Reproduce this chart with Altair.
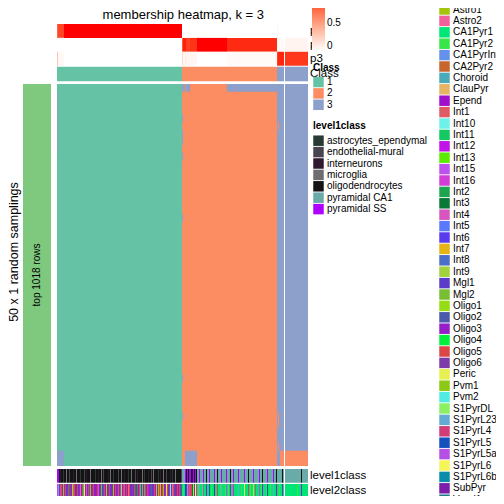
import altair as alt
import pandas as pd

FONT = "Liberation Sans"

TITLE = "membership heatmap, k = 3"
ROW_TITLE = "50 x 1 random samplings"
ROW_GROUP = "top 1018 rows"
N_ROWS = 50

CLASS_NAMES = ["1", "2", "3"]
CLASS_COLORS = ["#66C2A5", "#FC8D62", "#8DA0CB"]
ROW_GROUP_COLOR = "#7FC97F"
P_NAMES = ["p1", "p2", "p3"]
P_COLORS = ["#FFFFFF", "#FF0000"]

# column segments (contiguous samples sharing the same values), two column slices
SEG_WIDTH = [1, 6, 118, 1, 2, 1, 4, 7, 30, 50, 1, 1, 1, 4, 23]
SEG_SLICE = [1, 1, 1, 1, 1, 1, 1, 1, 1, 1, 1, 1, 1, 1, 2]
CLASS_ANNO = [1, 1, 1, 2, 2, 2, 2, 2, 2, 2, 3, 3, 3, 3, 3]
P1 = [0.75, 0.88, 1.0, 0, 0, 0, 0, 0, 0, 0, 0.06, 0, 0, 0, 0]
P2 = [0, 0, 0, 0.8, 0.97, 0.97, 0.9, 0.93, 1.0, 0.95, 0.04, 0.03, 0.03, 0.03, 0.06]
P3 = [0.3, 0.04, 0, 0.2, 0.04, 0.1, 0.05, 0.05, 0, 0.03, 0.9, 0.96, 0.96, 0.96, 0.92]

# sampling rows that differ from the consensus class
ROW_TOP = [1, 1, 1, 3, 3, 2, 3, 2, 2, 3, 3, 3, 3, 3, 3]
ROW_BOTTOM = [3, 3, 1, 2, 2, 3, 3, 3, 2, 2, 3, 3, 3, 2, 2]
ROWS_BOTTOM = [49, 50]
ROWS_S1_CLASS3 = [2, 3, 4, 5, 6, 7, 8, 9]
ROWS_S4A_CLASS3 = [5, 7, 8, 10, 18, 39, 44]
ROWS_S10B_CLASS2 = [6, 44, 45, 48]

L1_KEYS = "AEIMOCS"
L1_NAMES = ["astrocytes_ependymal", "endothelial-mural", "interneurons", "microglia",
            "oligodendrocytes", "pyramidal CA1", "pyramidal SS"]
L1_COLORS = ["#283A33", "#4A4450", "#2F1A30", "#6E6E70", "#141414", "#68ABA9", "#AE00FF"]

L2_KEYS = "0abcdefghijklmnopqrstuvwxyzABCDEFGHIJKLMNOPQRS"
L2_NAMES = ["(none)", "Astro1", "Astro2", "CA1Pyr1", "CA1Pyr2", "CA1PyrInt", "CA2Pyr2", "Choroid",
            "ClauPyr", "Epend", "Int1", "Int10", "Int11", "Int12", "Int13", "Int15", "Int16", "Int2",
            "Int3", "Int4", "Int5", "Int6", "Int7", "Int8", "Int9", "Mgl1", "Mgl2", "Oligo1", "Oligo2",
            "Oligo3", "Oligo4", "Oligo5", "Oligo6", "Peric", "Pvm1", "Pvm2", "S1PyrDL", "S1PyrL23",
            "S1PyrL4", "S1PyrL5", "S1PyrL5a", "S1PyrL6", "S1PyrL6b", "SubPyr", "Vend1", "Vend2"]
L2_COLORS = ["#9932CC", "#A4C40C", "#F2609C", "#00E676", "#38E64A", "#6491EB", "#C8642D", "#4BAAB9",
             "#E6B464", "#A00FCB", "#E05A64", "#6EF0EB", "#14C864", "#C014E8", "#5AEB00", "#BE50F0",
             "#D23CD7", "#1EA550", "#0A7837", "#D755BE", "#5A78FA", "#5A3CF0", "#E6B414", "#4B6EC8",
             "#A0D23C", "#5A3CC8", "#78BE32", "#96DC14", "#4B5AAA", "#961EC8", "#00F03C", "#DC4646",
             "#7D3CAA", "#E6F050", "#8CC814", "#50EBE1", "#8CF064", "#64AAD2", "#D23C78", "#1450BE",
             "#B450E6", "#F5F55A", "#0A8CAA", "#7D1EAA", "#1E7D8C", "#E05050"]

# one code per sample column
L1_SLICE1 = ("SSOIOOAOOM OOEOOOIOOM OOOAOOOEOI OOOMOOOOAO OIOOMOEOOO OIOMOOAOOO OEOOMOOIOO "
             "OAOOMOOOEO IOOOOMOAOO OIOOEOMOOO OAOIOOMOOE OOOIOAOOMO OOOOE "
             "CCCSOSOSSOISOSO "
             "CCSCCCSCCO CCSCCCCSCC OCCCSCCCCS CCCOCCSCCC CSCCCCCSCC COCCCCSCCC CCSCCOCCCC SCCCCCSCCO "
             "CCCCCOC")
L1_SLICE2 = "CCCCCCCCCC CCCCCCOCCC CCC"
L2_SLICE1 = ("NKCpECaFEy CERFCAjECy ECFbCEDGCs CEBHCFECiC EoCFzCRECA CuEyCFaCEC FSCEICEjCE "
             "CbECyFCERC qCEDCzCgEC EmCFRCyECA CaEvCEHCFG ECBkCbEFyC ECEFR "
             "cdcMCKENLErJCOE "
             "cdKccdNccC ccMcdccQcc EccdKcccdN cdcCceLccc cKccdccOcc cEcdccJcfc ccNcdCcccd MccdccKccC "
             "ccdccCc")
L2_SLICE2 = "cccccccccc ccdcccCccc ccc"

# ---------------- build tables ----------------
GAP = 1
starts, pos, prev = [], 0, SEG_SLICE[0]
for w, s in zip(SEG_WIDTH, SEG_SLICE):
    if s != prev:
        pos += GAP
        prev = s
    starts.append(pos)
    pos += w
ends = [a + w for a, w in zip(starts, SEG_WIDTH)]
TOTAL = pos


def runs(values):
    out = []
    for i, v in enumerate(values):
        if v is None:
            continue
        if out and out[-1][2] == v and out[-1][1] == starts[i]:
            out[-1][1] = ends[i]
        else:
            out.append([starts[i], ends[i], v])
    return out


matrix = []
for r in range(1, N_ROWS + 1):
    row = list(CLASS_ANNO)
    if r == 1:
        row = list(ROW_TOP)
    if r in ROWS_BOTTOM:
        row = list(ROW_BOTTOM)
    if r in ROWS_S1_CLASS3:
        row[0] = 3
    if r in ROWS_S4A_CLASS3:
        row[3] = 3
    if r in ROWS_S10B_CLASS2:
        row[11] = 2
    matrix.append(row)

base_df = pd.DataFrame([dict(x0=a, x1=b, cls=str(c), y0=0, y1=N_ROWS) for a, b, c in runs(CLASS_ANNO)])

exc = []
for r, row in enumerate(matrix):
    vals = [c if c != b else None for c, b in zip(row, CLASS_ANNO)]
    for a, b, c in runs(vals):
        found = None
        for e in exc:
            if e["x0"] == a and e["x1"] == b and e["cls"] == str(c) and e["y1"] == r:
                found = e
                break
        if found:
            found["y1"] = r + 1
        else:
            exc.append(dict(x0=a, x1=b, cls=str(c), y0=r, y1=r + 1))
exc_df = pd.DataFrame(exc)

p_rows = []
for i in range(len(SEG_WIDTH)):
    for name, vals in zip(P_NAMES, [P1, P2, P3]):
        p_rows.append(dict(x0=starts[i], x1=ends[i], prow=name, p=vals[i]))
p_df = pd.DataFrame(p_rows)

class_df = pd.DataFrame([dict(x0=a, x1=b, cls=str(c), row="Class") for a, b, c in runs(CLASS_ANNO)])

l1_map = dict(zip(L1_KEYS, L1_NAMES))
l2_map = dict(zip(L2_KEYS, L2_NAMES))
s1a, s2a = L1_SLICE1.replace(" ", ""), L1_SLICE2.replace(" ", "")
s1b, s2b = L2_SLICE1.replace(" ", ""), L2_SLICE2.replace(" ", "")
slice2_start = starts[-1]
lev_rows = []
for i, (a, b) in enumerate(zip(s1a, s1b)):
    lev_rows.append(dict(x0=i, x1=i + 1, level1=l1_map[a], level2=l2_map[b]))
for i, (a, b) in enumerate(zip(s2a, s2b)):
    lev_rows.append(dict(x0=slice2_start + i, x1=slice2_start + i + 1, level1=l1_map[a], level2=l2_map[b]))
lev_df = pd.DataFrame(lev_rows)
lev_df["r1"] = "level1class"
lev_df["r2"] = "level2class"

# ---------------- scales ----------------
def xs():
    return alt.Scale(domain=[0, TOTAL], range=[49, 300], nice=False, zero=False)


def band(domain, rng):
    return alt.Scale(domain=domain, range=rng, paddingInner=0, paddingOuter=0)


HEAT_Y = dict(domain=[0, N_ROWS], range=[76, 458], nice=False, zero=False)
P_RANGE = [16, 57.7]
CLASS_RANGE = [58.7, 73.3]
L1_RANGE = [461, 474.7]
L2_RANGE = [476, 490.3]

sym_legend = dict(orient="none", direction="vertical", titleFontSize=10, titleFont=FONT,
                  titleFontWeight="bold", titleColor="black", titlePadding=4, labelFontSize=10,
                  labelFont=FONT, labelColor="black", labelOffset=3, symbolType="square",
                  symbolSize=110, symbolStrokeWidth=0, rowPadding=0.4, padding=0,
                  symbolLimit=100, zindex=1)

class_scale = alt.Scale(domain=CLASS_NAMES, range=CLASS_COLORS)

heat_base = alt.Chart(base_df).mark_rect().encode(
    x=alt.X("x0:Q", scale=xs(), axis=None), x2="x1:Q",
    y=alt.Y("y0:Q", scale=alt.Scale(**HEAT_Y), axis=None), y2="y1:Q",
    color=alt.Color("cls:N", scale=class_scale, legend=None))

heat_exc = alt.Chart(exc_df).mark_rect().encode(
    x=alt.X("x0:Q", scale=xs(), axis=None), x2="x1:Q",
    y=alt.Y("y0:Q", scale=alt.Scale(**HEAT_Y), axis=None), y2="y1:Q",
    color=alt.Color("cls:N", scale=class_scale, legend=None))

p_layer = alt.Chart(p_df).mark_rect().encode(
    x=alt.X("x0:Q", scale=xs(), axis=None), x2="x1:Q",
    y=alt.Y("prow:N", scale=band(P_NAMES, P_RANGE), axis=None),
    color=alt.Color("p:Q", scale=alt.Scale(domain=[0, 1], range=P_COLORS, interpolate="lab"),
                    legend=alt.Legend(orient="none", direction="vertical", legendX=304, legendY=-12.2,
                                      title=None, gradientLength=55, gradientThickness=13,
                                      gradientStrokeWidth=0, values=[0, 0.5, 1], format="~g",
                                      labelFontSize=10, labelFont=FONT, labelColor="black",
                                      labelBaseline="middle", labelOffset=2, padding=0, zindex=1)))

p_names = alt.Chart(pd.DataFrame({"prow": P_NAMES})).mark_text(
    align="left", baseline="middle", fontSize=11.5, font=FONT, color="black").encode(
    x=alt.value(302), y=alt.Y("prow:N", scale=band(P_NAMES, P_RANGE), axis=None), text="prow:N")

class_layer = alt.Chart(class_df).mark_rect().encode(
    x=alt.X("x0:Q", scale=xs(), axis=None), x2="x1:Q",
    y=alt.Y("row:N", scale=band(["Class"], CLASS_RANGE), axis=None),
    color=alt.Color("cls:N", scale=class_scale,
                    legend=alt.Legend(title="Class", legendX=305, legendY=54.5, **sym_legend)))

class_name = alt.Chart(pd.DataFrame({"row": ["Class"]})).mark_text(
    align="left", baseline="middle", fontSize=11.5, font=FONT, color="black").encode(
    x=alt.value(302), y=alt.Y("row:N", scale=band(["Class"], CLASS_RANGE), axis=None), text="row:N")

l1_layer = alt.Chart(lev_df).mark_rect().encode(
    x=alt.X("x0:Q", scale=xs(), axis=None), x2="x1:Q",
    y=alt.Y("r1:N", scale=band(["level1class"], L1_RANGE), axis=None),
    color=alt.Color("level1:N", scale=alt.Scale(domain=L1_NAMES, range=L1_COLORS),
                    legend=alt.Legend(title="level1class", legendX=305, legendY=113.2, **sym_legend)))

l1_name = alt.Chart(pd.DataFrame({"r1": ["level1class"]})).mark_text(
    align="left", baseline="middle", fontSize=11.5, font=FONT, color="black").encode(
    x=alt.value(302), y=alt.Y("r1:N", scale=band(["level1class"], L1_RANGE), axis=None), text="r1:N")

l2_layer = alt.Chart(lev_df).mark_rect().encode(
    x=alt.X("x0:Q", scale=xs(), axis=None), x2="x1:Q",
    y=alt.Y("r2:N", scale=band(["level2class"], L2_RANGE), axis=None),
    color=alt.Color("level2:N", scale=alt.Scale(domain=L2_NAMES, range=L2_COLORS),
                    legend=alt.Legend(title="level2class", legendX=431, legendY=-29.4, **sym_legend)))

l2_name = alt.Chart(pd.DataFrame({"r2": ["level2class"]})).mark_text(
    align="left", baseline="middle", fontSize=11.5, font=FONT, color="black").encode(
    x=alt.value(302), y=alt.Y("r2:N", scale=band(["level2class"], L2_RANGE), axis=None), text="r2:N")

grp_df = pd.DataFrame({"g": [ROW_GROUP]})
grp_x = lambda: alt.Scale(domain=[ROW_GROUP], range=[15, 43], paddingInner=0, paddingOuter=0)
grp_y = lambda: alt.Scale(domain=[ROW_GROUP], range=[76, 458], paddingInner=0, paddingOuter=0)
grp_rect = alt.Chart(grp_df).mark_rect(color=ROW_GROUP_COLOR).encode(
    x=alt.X("g:N", scale=grp_x(), axis=None), y=alt.Y("g:N", scale=grp_y(), axis=None))
grp_text = alt.Chart(grp_df).mark_text(angle=270, fontSize=10, font=FONT, color="black").encode(
    x=alt.X("g:N", scale=grp_x(), axis=None), y=alt.Y("g:N", scale=grp_y(), axis=None), text="g:N")

title_text = alt.Chart(pd.DataFrame({"t": [TITLE]})).mark_text(
    fontSize=13, font=FONT, color="black", align="center", baseline="middle").encode(
    x=alt.value(175.3), y=alt.value(6.5), text="t:N")

row_title = alt.Chart(pd.DataFrame({"t": [ROW_TITLE]})).mark_text(
    fontSize=12.5, font=FONT, color="black", angle=270, align="center", baseline="middle").encode(
    x=alt.value(6), y=alt.value(244), text="t:N")

chart = alt.layer(
    heat_base, heat_exc, p_names, class_name, p_layer, class_layer, l1_layer, l1_name,
    l2_layer, l2_name, grp_rect, grp_text, title_text, row_title
).resolve_scale(
    x="independent", y="independent", color="independent"
).properties(
    width=488, height=488, padding=0, autosize=alt.AutoSizeParams(type="none"),
    background="white"
).configure_view(stroke=None)

chart.save("out.html", embed_options={"renderer": "svg", "actions": False})
